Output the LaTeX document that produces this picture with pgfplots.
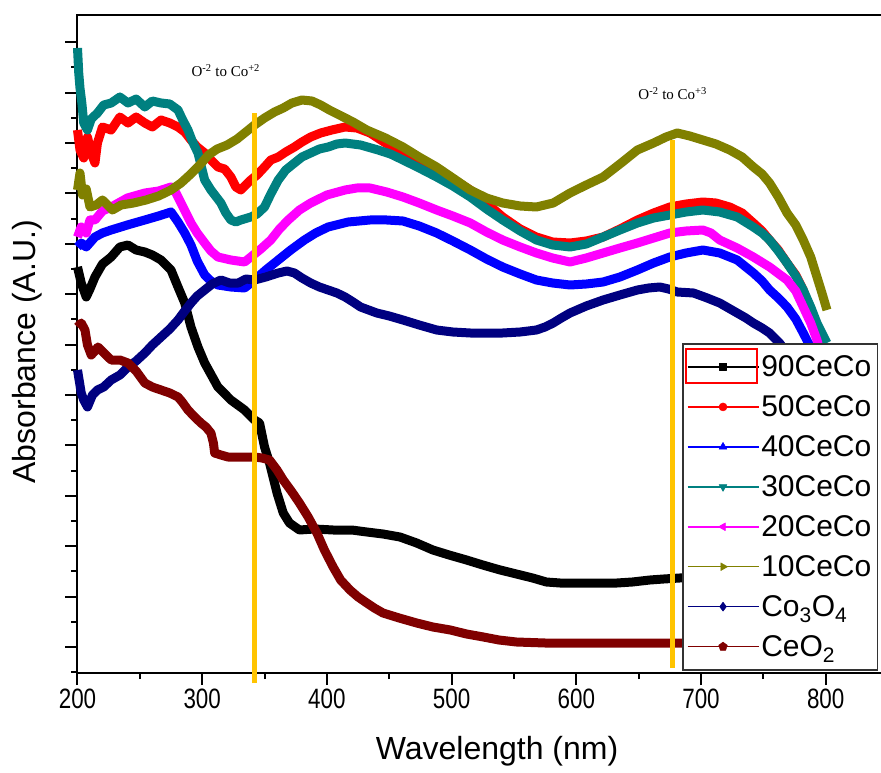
\documentclass[border=0pt]{standalone}
\usepackage{fontspec}
\setmainfont{Liberation Sans}
\newfontfamily\narrowsans[FakeStretch=0.8]{Liberation Sans}
\newfontfamily\serifnote{Liberation Serif}
\usepackage{pgfplots}
\pgfplotsset{compat=1.18}

\definecolor{cteal}{RGB}{0,128,128}
\definecolor{colive}{RGB}{128,128,0}
\definecolor{cnavy}{RGB}{0,0,128}
\definecolor{cmaroon}{RGB}{128,0,0}
\definecolor{cmagenta}{RGB}{255,0,255}
\definecolor{cred}{RGB}{255,0,0}
\definecolor{cblue}{RGB}{0,0,255}
\definecolor{cgold}{RGB}{255,196,0}

\begin{document}
\begin{tikzpicture}
\useasboundingbox (-77.5pt,-99pt) rectangle (803.5pt,673pt);
\begin{axis}[
  at={(0pt,0pt)}, anchor=south west,
  scale only axis, width=804.3pt, height=658pt,
  xmin=200, xmax=845, ymin=0, ymax=65.8,
  clip=false,
  axis line style={line width=2pt},
  xtick={200,300,...,800}, minor x tick num=1,
  ytick={2.6,7.64,12.68,17.72,22.76,27.8,32.84,37.88,42.92,47.96,53,58.04,63.08},
  minor ytick={0.08,5.12,10.16,15.2,20.24,25.28,30.32,35.36,40.4,45.44,50.48,55.52,60.56},
  yticklabels={},
  xtick pos=bottom, ytick pos=left,
  tick align=outside,
  major tick length=12pt, minor tick length=6pt,
  tick style={black, line width=2pt},
  /pgf/number format/assume math mode=true,
  tick label style={font=\narrowsans\fontsize{28}{28}\selectfont},
  xlabel={Wavelength (nm)},
  ylabel={Absorbance (A.U.)},
  label style={font=\fontsize{32}{32}\selectfont},
  xlabel style={at={(axis description cs:0.5216,-0.1322)}, anchor=base},
  ylabel style={at={(axis description cs:-0.0628,0.488)}, anchor=center},
  every axis plot/.append style={line width=9pt, line join=round, mark=none},
  legend style={at={(axis description cs:0.7516,0.5015)}, anchor=north west,
    draw=black!80, line width=1.5pt, fill=white,
    font=\fontsize{30}{30}\selectfont,
    inner xsep=4pt, inner ysep=10pt, row sep=13.5pt,
    /tikz/every even column/.append style={column sep=2pt}},
  legend cell align=left,
  legend image code/.code={\draw[mark repeat=2,mark phase=2,#1]
    plot coordinates {(0pt,0pt) (35.5pt,0pt) (71pt,0pt)};},
]

% 90CeCo
\addplot[black, forget plot] coordinates {
(200,40.6) (203,39.0) (207,37.6) (210,38.4) (214,39.6) (220,40.9) (227,41.6) (234,42.6) (240.5,42.8) (247,42.3) (254,42.1) (260,41.8) (267,41.3)
(275,40.3) (280.6,38.6) (286,37.0) (291,34.6) (296.6,32.6) (302,31.0)
(312.6,28.6) (323,27.3) (334,26.3) (342,25.3) (346,25.0) (350,22.6) (354,21.0)
(360,18.0) (365,16.0) (370,15.0) (378,14.3) (390,14.4) (405,14.3) (420,14.3) (432,14.1) (445,13.9) (458.6,13.6) (472,13.0) (485,12.3) (498,11.8) (512,11.3)
(525,10.8) (539,10.3) (552,9.9) (565,9.5) (576,9.1) (587,9.0) (610,9.0) (632.6,9.0) (645,9.1) (659,9.3) (670,9.4) (683,9.5) (720,9.8)
(760,10.0) (800,10.2)};
% 50CeCo
\addplot[cred, forget plot] coordinates {
(200,54.3) (202,52.3) (205,51.5) (208,53.6) (211,52.0) (214,51.0) (216,53.0) (220,54.6) (227,54.3) (234,55.6) (240.5,55.0) (247,55.6) (254,55.0)
(260,54.6) (267,55.3) (274,55.0) (280.6,54.6) (286,54.1) (291,53.3) (296,52.6) (302,52.0) (307,51.3) (312.6,50.6) (318,50.4) (323,49.6) (327,48.6) (331,48.3)
(335,48.8) (339,49.3) (344,49.8) (350,50.6) (355,51.3) (361,51.6) (367,52.1) (374,52.6) (380,53.1) (387,53.6) (395,54.0) (404,54.3) (414.6,54.6)
(424,54.5) (434.6,54.0) (447,53.0) (461,52.0) (474,51.2) (488,50.3) (501,49.4) (515,48.3) (528,47.0) (541,45.6) (555,44.4) (568,43.6) (581,43.1) (595,43.0)
(608,43.2) (621.5,43.6) (635,44.4) (649,45.3) (662,46.0) (675,46.6) (688,46.9) (701.5,47.1) (712,47.0) (723,46.6) (733,46.0) (742,45.0) (749,44.2) (755,43.3)
(762,42.3) (769,41.0) (776,39.8) (782,38.3) (790,35.6) (796,33.5) (800,31.0)};
% 40CeCo
\addplot[cblue, forget plot] coordinates {
(200,42.6) (203,43.0) (207,42.6) (214,43.6) (220,44.0) (227,44.3) (240,44.8) (254,45.3) (265,45.7) (275,46.1) (280.6,45.1) (286,44.0) (291,42.8) (296,41.2) (302,39.8)
(307,39.2) (312.6,38.8) (323,38.6) (334,38.5) (342,39.3) (351,40.3) (361,41.3) (371,42.3) (382,43.3) (391,44.0) (401,44.6) (417,45.1) (434.6,45.3)
(448,45.3) (461,45.2) (474,44.7) (488,44.0) (501,43.2) (515,42.3) (528,41.4) (541,40.6) (555,39.9) (568,39.3) (581,39.0) (595,38.8) (608,38.9) (621.5,39.1)
(635,39.6) (649,40.3) (662,41.0) (675,41.6) (688,42.0) (701.5,42.3) (715,42.0) (729,41.3) (742,40.0) (749,39.2) (755,38.3) (762,37.5) (769,36.6)
(776,35.4) (782,34.0) (791,31.8) (800,29.0)};
% 30CeCo
\addplot[cteal, forget plot] coordinates {
(200,62.5) (201,60.0) (202,58.5) (203.5,57.0) (205,55.0) (208,54.3) (211,55.4) (216,56.0) (221,56.8) (227,57.0) (234,57.6) (240.5,57.0) (247,57.4)
(254,56.6) (260,57.2) (267,57.0) (274,56.9) (280.6,56.3) (284,55.4) (288.6,54.3) (292,53.2) (296.6,52.0) (302,49.3) (307,48.3)
(315,47.0) (319,46.0) (323,45.3) (327,45.1) (331,45.3) (339,45.6) (344,45.9) (350,46.6) (355,47.9) (361,49.3) (367,50.3) (374,51.0)
(380,51.6) (387,52.0) (394,52.4) (401,52.6) (408,52.9) (414.6,53.0) (427,52.8) (441,52.3) (451,51.9) (461,51.3) (474,50.5) (488,49.6) (501,48.7) (515,47.6)
(528,46.4) (541,45.3) (555,44.2) (568,43.3) (581,42.8) (595,42.6) (608,42.9) (621.5,43.6) (635,44.3) (649,45.0) (662,45.5) (675,45.8) (688,46.1) (701.5,46.3)
(715,46.1) (729,45.6) (742,44.6) (749,44.0) (755,43.3) (762,42.2) (769,41.0) (776,39.7) (782,38.3) (788,36.6) (793,35.0) (801,33.0)};
% 20CeCo
\addplot[cmagenta, forget plot] coordinates {
(200,43.6) (203,44.6) (207,44.0) (210,45.3) (214,45.3) (220,46.2) (227,46.6) (240,47.5) (254,48.0) (265,48.2) (275,48.6) (279,48.0) (283,47.0) (287,46.0) (291,45.0)
(296,44.0) (302,43.0) (307,42.2) (312.6,41.6) (323,41.3) (334,41.1) (339,41.6) (347,42.4) (355,43.3) (362,44.4) (369,45.3) (378,46.3) (387,47.0)
(400,47.8) (414.6,48.3) (424,48.5) (434.6,48.5) (448,48.1) (461,47.6) (474,47.0) (488,46.3) (501,45.7) (515,45.0) (528,44.1) (541,43.3) (555,42.6) (568,42.0)
(581,41.5) (595,41.1) (608,41.5) (621.5,42.0) (635,42.5) (649,43.0) (662,43.5) (675,44.0) (688,44.2) (701.5,44.3) (708,44.0) (715,43.3) (729,42.5) (742,41.6)
(755,40.6) (769,39.3) (776,38.2) (782,36.6) (788,35.0) (793,33.3) (800,30.0)};
% 10CeCo
\addplot[colive, forget plot] coordinates {
(200,48.3) (202,50.0) (204,47.8) (207,48.4) (210,46.6) (215,46.8) (220,47.3) (228,46.3) (235,46.8) (245,47.0) (255,47.3) (265,47.7) (275,48.3) (283,49.0) (290,49.8) (298,50.8) (305,51.8)
(312,52.4) (320,52.8) (328,53.4) (335,54.1) (342,54.8) (350,55.5) (358,56.1) (365,56.5) (372,57.0) (380,57.3) (388,57.2) (395,56.8) (402,56.3) (410,55.8)
(421,55.1) (432,54.3) (447,53.5) (461,52.6) (474,51.6) (488,50.6) (501,49.5) (515,48.3) (528,47.5) (541,47.0) (555,46.7) (568,46.6) (581.5,47.0)
(595,48.0) (608,48.8) (621.5,49.6) (636,51.0) (649,52.3) (662,53.0) (672,53.6) (681,54.0) (691,53.7) (701.5,53.3) (712,52.9)
(723,52.3) (733,51.6) (742,50.6) (749,49.9) (755,49.0) (762,47.6) (769,46.0) (776,44.8) (782,43.3) (788,41.6) (793,39.6) (797,38.0) (801,36.3)};
% Co3O4
\addplot[cnavy, forget plot] coordinates {
(200,30.3) (203,28.0) (205,27.3) (208,26.6) (212,27.8) (216,28.3) (221,28.6) (227,29.3) (234,29.8) (240.5,30.6) (247,31.2) (254,32.0)
(260,32.8) (267,33.6) (274,34.4) (280.6,35.3) (286,36.2) (291,37.0) (296,37.7) (302,38.3) (308,38.9) (315,39.3) (322,39.0) (329,39.0) (335,39.4) (342,39.3)
(351,39.6) (361,40.0) (368,40.2) (374,40.0) (380,39.5) (387,39.0) (394,38.6) (401,38.3) (408,38.0) (414.6,37.6) (421,37.1) (427,36.6) (440,36.0)
(450,35.7) (461,35.3) (474,34.8) (488,34.3) (501,34.1) (515,34.0) (528,34.0) (541,34.0) (555,34.1) (568,34.3) (575,34.6) (581.5,35.0) (588,35.5) (595,36.0)
(608,36.7) (621.5,37.3) (635,37.8) (649,38.3) (658,38.5) (667,38.6) (674,38.4) (681,38.1) (694,38.0) (705,37.5) (715,37.0) (722,36.5) (729,36.0)
(736,35.5) (742,35.0) (749,34.5) (755,34.0) (763,33.0) (775,31.0) (790,28.0)};
% CeO2
\addplot[cmaroon, forget plot] coordinates {
(200,34.6) (203,35.0) (206,34.3) (208,32.8) (211,31.8) (214,32.2) (216.4,32.6) (222,31.9) (227,31.3) (234,31.3) (240.5,31.0) (247,30.2) (254,29.0)
(260,28.6) (267,28.3) (274,28.0) (280.6,27.6) (284,27.1) (288.6,26.3) (294,25.6) (299,25.0) (303,24.6) (307,24.0) (309,23.0) (310,22.0) (315,21.8) (320.7,21.6)
(331,21.6) (342,21.6) (348,21.5) (354,21.3) (360,20.3) (365,19.3) (372,18.1) (378,17.0) (385,15.6) (392,14.0) (398,12.3) (405,10.6) (411,9.3) (418.5,8.3)
(425,7.6) (432,7.0) (438,6.5) (445,6.0) (458,5.5) (472,5.0) (485,4.6) (499,4.3) (512,3.9) (525.5,3.6) (538,3.3) (552,3.1) (575,3.0) (605,3.0)
(683,3.0) (800,3.0)};

% charge-transfer band positions
\addplot[cgold, line width=5pt, line cap=butt, forget plot] coordinates {(342,-1.0) (342,56.0)};
\addplot[cgold, line width=5pt, line cap=butt, forget plot] coordinates {(677.5,0.5) (677.5,53.3)};

\node[font=\serifnote\fontsize{15}{15}\selectfont, anchor=base west]
  at (axis cs:288.6,59.6) {O\textsuperscript{-2} to Co\textsuperscript{+2}};
\node[font=\serifnote\fontsize{15}{15}\selectfont, anchor=base west]
  at (axis cs:647,57.3) {O\textsuperscript{-2} to Co\textsuperscript{+3}};

% legend samples
\addlegendimage{black, line width=1.5pt, mark=square*, mark size=3.5pt, mark options={line width=0.5pt}}
\addlegendentry{90CeCo}
\addlegendimage{cred, line width=1.5pt, mark=*, mark size=4pt, mark options={line width=0.5pt}}
\addlegendentry{50CeCo}
\addlegendimage{cblue, line width=1.5pt, mark=triangle*, mark size=4.5pt, mark options={line width=0.5pt}}
\addlegendentry{40CeCo}
\addlegendimage{cteal, line width=1.5pt, mark=triangle*, mark size=4.5pt, mark options={line width=0.5pt, rotate=180}}
\addlegendentry{30CeCo}
\addlegendimage{cmagenta, line width=1.5pt, mark=triangle*, mark size=4.5pt, mark options={line width=0.5pt, rotate=90}}
\addlegendentry{20CeCo}
\addlegendimage{colive, line width=1.5pt, mark=triangle*, mark size=4.5pt, mark options={line width=0.5pt, rotate=-90}}
\addlegendentry{10CeCo}
\addlegendimage{cnavy, line width=1.5pt, mark=diamond*, mark size=4.5pt, mark options={line width=0.5pt}}
\addlegendentry{Co\textsubscript{3}O\textsubscript{4}}
\addlegendimage{cmaroon, line width=1.5pt, mark=pentagon*, mark size=4.5pt, mark options={line width=0.5pt}}
\addlegendentry{CeO\textsubscript{2}}
\end{axis}
% selection frame around the first legend sample
\draw[cred, line width=1.5pt] (608.5pt,290pt) rectangle (679.5pt,324pt);
\end{tikzpicture}
\end{document}
